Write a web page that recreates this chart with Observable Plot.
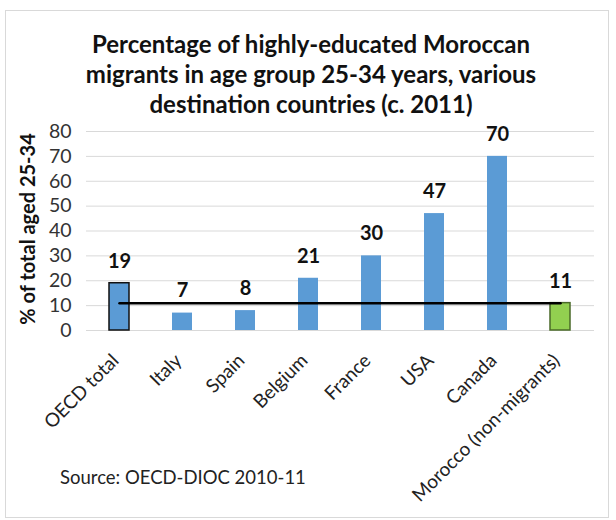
<!DOCTYPE html>
<html><head><meta charset="utf-8">
<script src="https://cdn.jsdelivr.net/npm/d3@7"></script>
<script src="https://cdn.jsdelivr.net/npm/@observablehq/plot@0.6"></script>
<style>
body{margin:0;background:#fff;font-family:Lato,"Open Sans",sans-serif;}
#box{position:absolute;left:5px;top:10px;width:604px;height:508px;border:1px solid #d9d9d9;box-sizing:border-box;overflow:hidden}
#title{position:absolute;left:0;top:29px;width:622px;text-align:center;font-weight:bold;font-size:24px;line-height:30px;color:#111}
#ylab{position:absolute;left:27px;top:229px;transform:translate(-50%,-50%) rotate(-90deg);white-space:nowrap;font-weight:bold;font-size:20px;color:#111}
#src{position:absolute;left:60px;top:466px;font-size:18.5px;color:#222}
#chart{position:absolute;left:6px;top:118px}
</style></head><body>
<div id="box"></div>
<div id="title">Percentage of highly-educated Moroccan<br>migrants in age group 25-34 years, various<br>destination countries (c. 2011)</div>
<div id="ylab">% of total aged 25-34</div>
<div id="chart"></div>
<div id="src">Source: OECD-DIOC 2010-11</div>
<script>
const categories = ["OECD total","Italy","Spain","Belgium","France","USA","Canada","Morocco (non-migrants)"];
const values = [19,7,8,21,30,47,70,11];
const benchmark = 11;
const yTicks = [0,10,20,30,40,50,60,70,80];

const data = categories.map((c,i)=>({cat:c, v:values[i]}));
const fills = {"OECD total":"#5b9bd5","Morocco (non-migrants)":"#92d050"};
const strokes = {"OECD total":"#111","Morocco (non-migrants)":"#4a6a28"};
const line = [{cat:categories[0], v:benchmark},{cat:categories[categories.length-1], v:benchmark}];

const chart = Plot.plot({
  width:604, height:390,
  marginLeft:80, marginRight:16, marginTop:13, marginBottom:178,
  style:{fontFamily:"Lato, 'Open Sans', sans-serif", fontSize:"19px", color:"#222", background:"transparent"},
  x:{domain:categories, paddingInner:0.68, paddingOuter:0.34, label:null},
  y:{domain:[0,80], label:null},
  marks:[
    Plot.gridY(yTicks,{stroke:"#d9d9d9", strokeOpacity:1}),
    Plot.ruleY([0],{stroke:"#d9d9d9"}),
    Plot.barY(data,{x:"cat", y:"v", fill:d=>fills[d.cat]||"#5b9bd5", stroke:d=>strokes[d.cat]||"none", strokeWidth:1.5}),
    Plot.line(line,{x:"cat", y:"v", stroke:"#000", strokeWidth:2.5}),
    Plot.text(data,{x:"cat", y:"v", text:d=>String(d.v), dy:-22, fontWeight:"bold", fontSize:20, fill:"#111"}),
    Plot.axisY(yTicks,{tickSize:0, tickPadding:15, fontSize:19.5, fill:"#333", label:null}),
    Plot.axisX({tickSize:0, tickRotate:-45, tickPadding:27, dx:-4, fontSize:19, fill:"#222", label:null})
  ]
});
document.getElementById("chart").appendChild(chart);
</script>
</body></html>
